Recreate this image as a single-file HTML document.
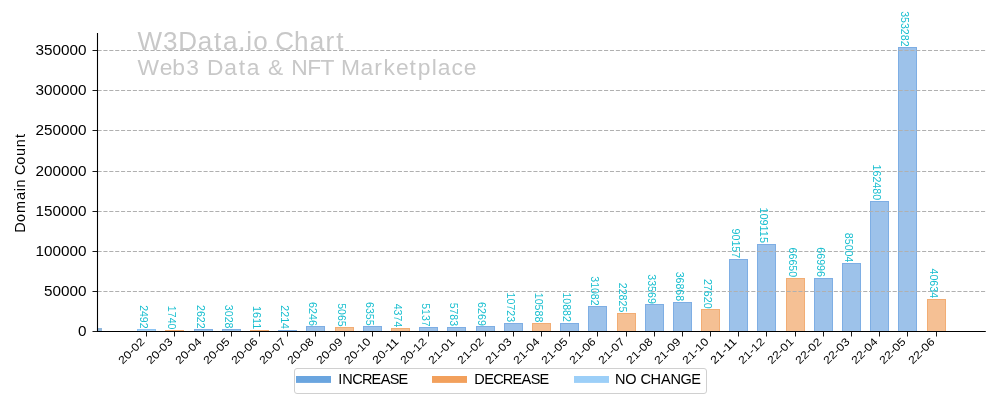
<!DOCTYPE html><html><head><meta charset="utf-8"><style>html,body{margin:0;padding:0;background:#fff;width:1000px;height:400px;overflow:hidden}svg{display:block;will-change:transform}text{font-family:"Liberation Sans",sans-serif}</style></head><body>
<svg width="1000" height="400" viewBox="0 0 1000 400">
<rect width="1000" height="400" fill="#fff"/>
<text x="137.59 162.94 178.36 197.81 213.98 222.93 238.18 246.35 253.13 268.37 275.29 294.10 309.68 325.38 336.14" y="49.9" font-size="26" fill="#c8c8c8" >W3Data.io Chart</text>
<text x="137.42 159.64 172.21 186.32 200.09 207.10 224.34 238.66 246.65 260.15 267.90 284.52 291.28 307.24 320.41 334.12 340.90 360.43 374.34 383.43 396.05 409.61 417.84 431.77 437.85 451.40 463.69" y="75.4" font-size="22.8" fill="#c8c8c8" >Web3 Data &amp; NFT Marketplace</text>
<rect x="137.50" y="329.50" width="18.00" height="2.00" fill="#a9d2f6" stroke="#8cc4f4" stroke-width="1"/>
<rect x="165.50" y="330.50" width="18.00" height="1.00" fill="#f5c094" stroke="#f2ad74" stroke-width="1"/>
<rect x="194.50" y="329.50" width="18.00" height="2.00" fill="#9dc2ea" stroke="#7eaee4" stroke-width="1"/>
<rect x="222.50" y="329.50" width="18.00" height="2.00" fill="#9dc2ea" stroke="#7eaee4" stroke-width="1"/>
<rect x="250.50" y="330.50" width="18.00" height="1.00" fill="#f5c094" stroke="#f2ad74" stroke-width="1"/>
<rect x="278.50" y="330.50" width="18.00" height="1.00" fill="#9dc2ea" stroke="#7eaee4" stroke-width="1"/>
<rect x="306.50" y="326.50" width="18.00" height="5.00" fill="#9dc2ea" stroke="#7eaee4" stroke-width="1"/>
<rect x="335.50" y="327.50" width="18.00" height="4.00" fill="#f5c094" stroke="#f2ad74" stroke-width="1"/>
<rect x="363.50" y="326.50" width="18.00" height="5.00" fill="#9dc2ea" stroke="#7eaee4" stroke-width="1"/>
<rect x="391.50" y="328.50" width="18.00" height="3.00" fill="#f5c094" stroke="#f2ad74" stroke-width="1"/>
<rect x="419.50" y="327.50" width="18.00" height="4.00" fill="#9dc2ea" stroke="#7eaee4" stroke-width="1"/>
<rect x="447.50" y="327.50" width="18.00" height="4.00" fill="#9dc2ea" stroke="#7eaee4" stroke-width="1"/>
<rect x="476.50" y="326.50" width="18.00" height="5.00" fill="#9dc2ea" stroke="#7eaee4" stroke-width="1"/>
<rect x="504.50" y="323.50" width="18.00" height="8.00" fill="#9dc2ea" stroke="#7eaee4" stroke-width="1"/>
<rect x="532.50" y="323.50" width="18.00" height="8.00" fill="#f5c094" stroke="#f2ad74" stroke-width="1"/>
<rect x="560.50" y="323.50" width="18.00" height="8.00" fill="#9dc2ea" stroke="#7eaee4" stroke-width="1"/>
<rect x="588.50" y="306.50" width="18.00" height="25.00" fill="#9dc2ea" stroke="#7eaee4" stroke-width="1"/>
<rect x="617.50" y="313.50" width="18.00" height="18.00" fill="#f5c094" stroke="#f2ad74" stroke-width="1"/>
<rect x="645.50" y="304.50" width="18.00" height="27.00" fill="#9dc2ea" stroke="#7eaee4" stroke-width="1"/>
<rect x="673.50" y="302.50" width="18.00" height="29.00" fill="#9dc2ea" stroke="#7eaee4" stroke-width="1"/>
<rect x="701.50" y="309.50" width="18.00" height="22.00" fill="#f5c094" stroke="#f2ad74" stroke-width="1"/>
<rect x="729.50" y="259.50" width="18.00" height="72.00" fill="#9dc2ea" stroke="#7eaee4" stroke-width="1"/>
<rect x="757.50" y="244.50" width="18.00" height="87.00" fill="#9dc2ea" stroke="#7eaee4" stroke-width="1"/>
<rect x="786.50" y="278.50" width="18.00" height="53.00" fill="#f5c094" stroke="#f2ad74" stroke-width="1"/>
<rect x="814.50" y="278.50" width="18.00" height="53.00" fill="#9dc2ea" stroke="#7eaee4" stroke-width="1"/>
<rect x="842.50" y="263.50" width="18.00" height="68.00" fill="#9dc2ea" stroke="#7eaee4" stroke-width="1"/>
<rect x="870.50" y="201.50" width="18.00" height="130.00" fill="#9dc2ea" stroke="#7eaee4" stroke-width="1"/>
<rect x="898.50" y="47.50" width="18.00" height="284.00" fill="#9dc2ea" stroke="#7eaee4" stroke-width="1"/>
<rect x="927.50" y="299.50" width="18.00" height="32.00" fill="#f5c094" stroke="#f2ad74" stroke-width="1"/>
<rect x="98" y="328" width="4" height="3" fill="#94b8dc"/>
<line x1="97.5" y1="291.50" x2="985.8" y2="291.50" stroke="#b0b0b0" stroke-width="1.1" stroke-dasharray="4.11 1.78"/>
<line x1="97.5" y1="251.50" x2="985.8" y2="251.50" stroke="#b0b0b0" stroke-width="1.1" stroke-dasharray="4.11 1.78"/>
<line x1="97.5" y1="211.50" x2="985.8" y2="211.50" stroke="#b0b0b0" stroke-width="1.1" stroke-dasharray="4.11 1.78"/>
<line x1="97.5" y1="171.50" x2="985.8" y2="171.50" stroke="#b0b0b0" stroke-width="1.1" stroke-dasharray="4.11 1.78"/>
<line x1="97.5" y1="130.50" x2="985.8" y2="130.50" stroke="#b0b0b0" stroke-width="1.1" stroke-dasharray="4.11 1.78"/>
<line x1="97.5" y1="90.50" x2="985.8" y2="90.50" stroke="#b0b0b0" stroke-width="1.1" stroke-dasharray="4.11 1.78"/>
<line x1="97.5" y1="50.50" x2="985.8" y2="50.50" stroke="#b0b0b0" stroke-width="1.1" stroke-dasharray="4.11 1.78"/>
<line x1="97.5" y1="33" x2="97.5" y2="332.00" stroke="#000" stroke-width="1.1"/>
<line x1="97" y1="331.50" x2="985.8" y2="331.50" stroke="#000" stroke-width="1.1"/>
<line x1="92.5" y1="331.50" x2="97.5" y2="331.50" stroke="#000" stroke-width="0.9"/>
<text x="86.4" y="336.40" font-size="14.4" text-anchor="end" fill="#000" textLength="8.5" lengthAdjust="spacingAndGlyphs">0</text>
<line x1="92.5" y1="291.50" x2="97.5" y2="291.50" stroke="#000" stroke-width="0.9"/>
<text x="86.4" y="296.40" font-size="14.4" text-anchor="end" fill="#000" textLength="42.5" lengthAdjust="spacingAndGlyphs">50000</text>
<line x1="92.5" y1="251.50" x2="97.5" y2="251.50" stroke="#000" stroke-width="0.9"/>
<text x="86.4" y="256.40" font-size="14.4" text-anchor="end" fill="#000" textLength="51.0" lengthAdjust="spacingAndGlyphs">100000</text>
<line x1="92.5" y1="211.50" x2="97.5" y2="211.50" stroke="#000" stroke-width="0.9"/>
<text x="86.4" y="216.40" font-size="14.4" text-anchor="end" fill="#000" textLength="51.0" lengthAdjust="spacingAndGlyphs">150000</text>
<line x1="92.5" y1="171.50" x2="97.5" y2="171.50" stroke="#000" stroke-width="0.9"/>
<text x="86.4" y="176.40" font-size="14.4" text-anchor="end" fill="#000" textLength="51.0" lengthAdjust="spacingAndGlyphs">200000</text>
<line x1="92.5" y1="130.50" x2="97.5" y2="130.50" stroke="#000" stroke-width="0.9"/>
<text x="86.4" y="135.40" font-size="14.4" text-anchor="end" fill="#000" textLength="51.0" lengthAdjust="spacingAndGlyphs">250000</text>
<line x1="92.5" y1="90.50" x2="97.5" y2="90.50" stroke="#000" stroke-width="0.9"/>
<text x="86.4" y="95.40" font-size="14.4" text-anchor="end" fill="#000" textLength="51.0" lengthAdjust="spacingAndGlyphs">300000</text>
<line x1="92.5" y1="50.50" x2="97.5" y2="50.50" stroke="#000" stroke-width="0.9"/>
<text x="86.4" y="55.40" font-size="14.4" text-anchor="end" fill="#000" textLength="51.0" lengthAdjust="spacingAndGlyphs">350000</text>
<line x1="146.50" y1="331.50" x2="146.50" y2="336.50" stroke="#000" stroke-width="0.9"/>
<text transform="translate(139.60,336.8) rotate(-45)" x="0" y="0" font-size="11.0" text-anchor="end" dominant-baseline="hanging" fill="#000" textLength="31.7" lengthAdjust="spacingAndGlyphs">20-02</text>
<line x1="174.50" y1="331.50" x2="174.50" y2="336.50" stroke="#000" stroke-width="0.9"/>
<text transform="translate(167.60,336.8) rotate(-45)" x="0" y="0" font-size="11.0" text-anchor="end" dominant-baseline="hanging" fill="#000" textLength="31.7" lengthAdjust="spacingAndGlyphs">20-03</text>
<line x1="203.50" y1="331.50" x2="203.50" y2="336.50" stroke="#000" stroke-width="0.9"/>
<text transform="translate(196.60,336.8) rotate(-45)" x="0" y="0" font-size="11.0" text-anchor="end" dominant-baseline="hanging" fill="#000" textLength="31.7" lengthAdjust="spacingAndGlyphs">20-04</text>
<line x1="231.50" y1="331.50" x2="231.50" y2="336.50" stroke="#000" stroke-width="0.9"/>
<text transform="translate(224.60,336.8) rotate(-45)" x="0" y="0" font-size="11.0" text-anchor="end" dominant-baseline="hanging" fill="#000" textLength="31.7" lengthAdjust="spacingAndGlyphs">20-05</text>
<line x1="259.50" y1="331.50" x2="259.50" y2="336.50" stroke="#000" stroke-width="0.9"/>
<text transform="translate(252.60,336.8) rotate(-45)" x="0" y="0" font-size="11.0" text-anchor="end" dominant-baseline="hanging" fill="#000" textLength="31.7" lengthAdjust="spacingAndGlyphs">20-06</text>
<line x1="287.50" y1="331.50" x2="287.50" y2="336.50" stroke="#000" stroke-width="0.9"/>
<text transform="translate(280.60,336.8) rotate(-45)" x="0" y="0" font-size="11.0" text-anchor="end" dominant-baseline="hanging" fill="#000" textLength="31.7" lengthAdjust="spacingAndGlyphs">20-07</text>
<line x1="315.50" y1="331.50" x2="315.50" y2="336.50" stroke="#000" stroke-width="0.9"/>
<text transform="translate(308.60,336.8) rotate(-45)" x="0" y="0" font-size="11.0" text-anchor="end" dominant-baseline="hanging" fill="#000" textLength="31.7" lengthAdjust="spacingAndGlyphs">20-08</text>
<line x1="344.50" y1="331.50" x2="344.50" y2="336.50" stroke="#000" stroke-width="0.9"/>
<text transform="translate(337.60,336.8) rotate(-45)" x="0" y="0" font-size="11.0" text-anchor="end" dominant-baseline="hanging" fill="#000" textLength="31.7" lengthAdjust="spacingAndGlyphs">20-09</text>
<line x1="372.50" y1="331.50" x2="372.50" y2="336.50" stroke="#000" stroke-width="0.9"/>
<text transform="translate(365.60,336.8) rotate(-45)" x="0" y="0" font-size="11.0" text-anchor="end" dominant-baseline="hanging" fill="#000" textLength="31.7" lengthAdjust="spacingAndGlyphs">20-10</text>
<line x1="400.50" y1="331.50" x2="400.50" y2="336.50" stroke="#000" stroke-width="0.9"/>
<text transform="translate(393.60,336.8) rotate(-45)" x="0" y="0" font-size="11.0" text-anchor="end" dominant-baseline="hanging" fill="#000" textLength="31.7" lengthAdjust="spacingAndGlyphs">20-11</text>
<line x1="428.50" y1="331.50" x2="428.50" y2="336.50" stroke="#000" stroke-width="0.9"/>
<text transform="translate(421.60,336.8) rotate(-45)" x="0" y="0" font-size="11.0" text-anchor="end" dominant-baseline="hanging" fill="#000" textLength="31.7" lengthAdjust="spacingAndGlyphs">20-12</text>
<line x1="456.50" y1="331.50" x2="456.50" y2="336.50" stroke="#000" stroke-width="0.9"/>
<text transform="translate(449.60,336.8) rotate(-45)" x="0" y="0" font-size="11.0" text-anchor="end" dominant-baseline="hanging" fill="#000" textLength="31.7" lengthAdjust="spacingAndGlyphs">21-01</text>
<line x1="485.50" y1="331.50" x2="485.50" y2="336.50" stroke="#000" stroke-width="0.9"/>
<text transform="translate(478.60,336.8) rotate(-45)" x="0" y="0" font-size="11.0" text-anchor="end" dominant-baseline="hanging" fill="#000" textLength="31.7" lengthAdjust="spacingAndGlyphs">21-02</text>
<line x1="513.50" y1="331.50" x2="513.50" y2="336.50" stroke="#000" stroke-width="0.9"/>
<text transform="translate(506.60,336.8) rotate(-45)" x="0" y="0" font-size="11.0" text-anchor="end" dominant-baseline="hanging" fill="#000" textLength="31.7" lengthAdjust="spacingAndGlyphs">21-03</text>
<line x1="541.50" y1="331.50" x2="541.50" y2="336.50" stroke="#000" stroke-width="0.9"/>
<text transform="translate(534.60,336.8) rotate(-45)" x="0" y="0" font-size="11.0" text-anchor="end" dominant-baseline="hanging" fill="#000" textLength="31.7" lengthAdjust="spacingAndGlyphs">21-04</text>
<line x1="569.50" y1="331.50" x2="569.50" y2="336.50" stroke="#000" stroke-width="0.9"/>
<text transform="translate(562.60,336.8) rotate(-45)" x="0" y="0" font-size="11.0" text-anchor="end" dominant-baseline="hanging" fill="#000" textLength="31.7" lengthAdjust="spacingAndGlyphs">21-05</text>
<line x1="597.50" y1="331.50" x2="597.50" y2="336.50" stroke="#000" stroke-width="0.9"/>
<text transform="translate(590.60,336.8) rotate(-45)" x="0" y="0" font-size="11.0" text-anchor="end" dominant-baseline="hanging" fill="#000" textLength="31.7" lengthAdjust="spacingAndGlyphs">21-06</text>
<line x1="626.50" y1="331.50" x2="626.50" y2="336.50" stroke="#000" stroke-width="0.9"/>
<text transform="translate(619.60,336.8) rotate(-45)" x="0" y="0" font-size="11.0" text-anchor="end" dominant-baseline="hanging" fill="#000" textLength="31.7" lengthAdjust="spacingAndGlyphs">21-07</text>
<line x1="654.50" y1="331.50" x2="654.50" y2="336.50" stroke="#000" stroke-width="0.9"/>
<text transform="translate(647.60,336.8) rotate(-45)" x="0" y="0" font-size="11.0" text-anchor="end" dominant-baseline="hanging" fill="#000" textLength="31.7" lengthAdjust="spacingAndGlyphs">21-08</text>
<line x1="682.50" y1="331.50" x2="682.50" y2="336.50" stroke="#000" stroke-width="0.9"/>
<text transform="translate(675.60,336.8) rotate(-45)" x="0" y="0" font-size="11.0" text-anchor="end" dominant-baseline="hanging" fill="#000" textLength="31.7" lengthAdjust="spacingAndGlyphs">21-09</text>
<line x1="710.50" y1="331.50" x2="710.50" y2="336.50" stroke="#000" stroke-width="0.9"/>
<text transform="translate(703.60,336.8) rotate(-45)" x="0" y="0" font-size="11.0" text-anchor="end" dominant-baseline="hanging" fill="#000" textLength="31.7" lengthAdjust="spacingAndGlyphs">21-10</text>
<line x1="738.50" y1="331.50" x2="738.50" y2="336.50" stroke="#000" stroke-width="0.9"/>
<text transform="translate(731.60,336.8) rotate(-45)" x="0" y="0" font-size="11.0" text-anchor="end" dominant-baseline="hanging" fill="#000" textLength="31.7" lengthAdjust="spacingAndGlyphs">21-11</text>
<line x1="766.50" y1="331.50" x2="766.50" y2="336.50" stroke="#000" stroke-width="0.9"/>
<text transform="translate(759.60,336.8) rotate(-45)" x="0" y="0" font-size="11.0" text-anchor="end" dominant-baseline="hanging" fill="#000" textLength="31.7" lengthAdjust="spacingAndGlyphs">21-12</text>
<line x1="795.50" y1="331.50" x2="795.50" y2="336.50" stroke="#000" stroke-width="0.9"/>
<text transform="translate(788.60,336.8) rotate(-45)" x="0" y="0" font-size="11.0" text-anchor="end" dominant-baseline="hanging" fill="#000" textLength="31.7" lengthAdjust="spacingAndGlyphs">22-01</text>
<line x1="823.50" y1="331.50" x2="823.50" y2="336.50" stroke="#000" stroke-width="0.9"/>
<text transform="translate(816.60,336.8) rotate(-45)" x="0" y="0" font-size="11.0" text-anchor="end" dominant-baseline="hanging" fill="#000" textLength="31.7" lengthAdjust="spacingAndGlyphs">22-02</text>
<line x1="851.50" y1="331.50" x2="851.50" y2="336.50" stroke="#000" stroke-width="0.9"/>
<text transform="translate(844.60,336.8) rotate(-45)" x="0" y="0" font-size="11.0" text-anchor="end" dominant-baseline="hanging" fill="#000" textLength="31.7" lengthAdjust="spacingAndGlyphs">22-03</text>
<line x1="879.50" y1="331.50" x2="879.50" y2="336.50" stroke="#000" stroke-width="0.9"/>
<text transform="translate(872.60,336.8) rotate(-45)" x="0" y="0" font-size="11.0" text-anchor="end" dominant-baseline="hanging" fill="#000" textLength="31.7" lengthAdjust="spacingAndGlyphs">22-04</text>
<line x1="907.50" y1="331.50" x2="907.50" y2="336.50" stroke="#000" stroke-width="0.9"/>
<text transform="translate(900.60,336.8) rotate(-45)" x="0" y="0" font-size="11.0" text-anchor="end" dominant-baseline="hanging" fill="#000" textLength="31.7" lengthAdjust="spacingAndGlyphs">22-05</text>
<line x1="936.50" y1="331.50" x2="936.50" y2="336.50" stroke="#000" stroke-width="0.9"/>
<text transform="translate(929.60,336.8) rotate(-45)" x="0" y="0" font-size="11.0" text-anchor="end" dominant-baseline="hanging" fill="#000" textLength="31.7" lengthAdjust="spacingAndGlyphs">22-06</text>
<text transform="translate(140.18,328.63) rotate(90)" font-size="10.12" text-anchor="end" fill="#17becf" textLength="23.50" lengthAdjust="spacingAndGlyphs">2492</text>
<text transform="translate(168.37,329.44) rotate(90)" font-size="10.12" text-anchor="end" fill="#17becf" textLength="23.61" lengthAdjust="spacingAndGlyphs">1740</text>
<text transform="translate(196.56,328.53) rotate(90)" font-size="10.12" text-anchor="end" fill="#17becf" textLength="23.50" lengthAdjust="spacingAndGlyphs">2622</text>
<text transform="translate(224.76,328.43) rotate(90)" font-size="10.12" text-anchor="end" fill="#17becf" textLength="23.57" lengthAdjust="spacingAndGlyphs">3028</text>
<text transform="translate(252.95,329.41) rotate(90)" font-size="10.12" text-anchor="end" fill="#17becf" textLength="23.50" lengthAdjust="spacingAndGlyphs">1611</text>
<text transform="translate(281.11,329.05) rotate(90)" font-size="10.06" text-anchor="end" fill="#17becf" textLength="23.69" lengthAdjust="spacingAndGlyphs">2214</text>
<text transform="translate(309.33,325.89) rotate(90)" font-size="10.12" text-anchor="end" fill="#17becf" textLength="23.81" lengthAdjust="spacingAndGlyphs">6246</text>
<text transform="translate(337.52,326.60) rotate(90)" font-size="10.12" text-anchor="end" fill="#17becf" textLength="23.38" lengthAdjust="spacingAndGlyphs">5065</text>
<text transform="translate(365.72,325.56) rotate(90)" font-size="10.12" text-anchor="end" fill="#17becf" textLength="23.56" lengthAdjust="spacingAndGlyphs">6355</text>
<text transform="translate(393.91,327.31) rotate(90)" font-size="10.12" text-anchor="end" fill="#17becf" textLength="23.61" lengthAdjust="spacingAndGlyphs">4374</text>
<text transform="translate(422.10,326.65) rotate(90)" font-size="10.12" text-anchor="end" fill="#17becf" textLength="23.49" lengthAdjust="spacingAndGlyphs">5137</text>
<text transform="translate(450.29,326.09) rotate(90)" font-size="10.12" text-anchor="end" fill="#17becf" textLength="23.45" lengthAdjust="spacingAndGlyphs">5783</text>
<text transform="translate(478.49,325.83) rotate(90)" font-size="10.12" text-anchor="end" fill="#17becf" textLength="23.77" lengthAdjust="spacingAndGlyphs">6269</text>
<text transform="translate(506.68,322.10) rotate(90)" font-size="10.12" text-anchor="end" fill="#17becf" textLength="29.51" lengthAdjust="spacingAndGlyphs">10723</text>
<text transform="translate(534.87,322.33) rotate(90)" font-size="10.12" text-anchor="end" fill="#17becf" textLength="29.63" lengthAdjust="spacingAndGlyphs">10588</text>
<text transform="translate(563.06,321.86) rotate(90)" font-size="10.12" text-anchor="end" fill="#17becf" textLength="29.40" lengthAdjust="spacingAndGlyphs">10882</text>
<text transform="translate(591.25,305.61) rotate(90)" font-size="10.12" text-anchor="end" fill="#17becf" textLength="29.33" lengthAdjust="spacingAndGlyphs">31082</text>
<text transform="translate(619.45,312.29) rotate(90)" font-size="10.12" text-anchor="end" fill="#17becf" textLength="29.53" lengthAdjust="spacingAndGlyphs">22825</text>
<text transform="translate(647.64,303.85) rotate(90)" font-size="10.12" text-anchor="end" fill="#17becf" textLength="29.57" lengthAdjust="spacingAndGlyphs">33569</text>
<text transform="translate(675.83,301.19) rotate(90)" font-size="10.12" text-anchor="end" fill="#17becf" textLength="29.56" lengthAdjust="spacingAndGlyphs">36868</text>
<text transform="translate(704.02,308.60) rotate(90)" font-size="10.12" text-anchor="end" fill="#17becf" textLength="29.70" lengthAdjust="spacingAndGlyphs">27620</text>
<text transform="translate(732.22,258.26) rotate(90)" font-size="10.12" text-anchor="end" fill="#17becf" textLength="29.71" lengthAdjust="spacingAndGlyphs">90157</text>
<text transform="translate(760.41,242.92) rotate(90)" font-size="10.12" text-anchor="end" fill="#17becf" textLength="35.49" lengthAdjust="spacingAndGlyphs">109115</text>
<text transform="translate(788.60,277.22) rotate(90)" font-size="10.12" text-anchor="end" fill="#17becf" textLength="29.72" lengthAdjust="spacingAndGlyphs">66650</text>
<text transform="translate(816.79,277.02) rotate(90)" font-size="10.12" text-anchor="end" fill="#17becf" textLength="29.80" lengthAdjust="spacingAndGlyphs">66996</text>
<text transform="translate(844.98,262.44) rotate(90)" font-size="10.12" text-anchor="end" fill="#17becf" textLength="29.65" lengthAdjust="spacingAndGlyphs">85004</text>
<text transform="translate(873.18,200.18) rotate(90)" font-size="10.12" text-anchor="end" fill="#17becf" textLength="35.65" lengthAdjust="spacingAndGlyphs">162480</text>
<text transform="translate(901.37,46.54) rotate(90)" font-size="10.12" text-anchor="end" fill="#17becf" textLength="35.37" lengthAdjust="spacingAndGlyphs">353282</text>
<text transform="translate(929.56,298.12) rotate(90)" font-size="10.12" text-anchor="end" fill="#17becf" textLength="29.60" lengthAdjust="spacingAndGlyphs">40634</text>
<text x="0.11 10.91 19.92 32.95 41.55 45.46 54.09 57.93 68.23 76.88 85.68 94.83" y="0" font-size="14.5" fill="#000" transform="translate(25.3,232.9) rotate(-90)">Domain Count</text>
<rect x="294.5" y="368.5" width="412" height="25" rx="2.5" ry="2.5" fill="#fff" fill-opacity="0.8" stroke="#d0d0d0" stroke-width="1"/>
<rect x="296" y="376" width="35" height="6.9" fill="#6aa5df"/>
<text x="338.13 342.16 352.20 361.88 371.49 380.63 389.79 398.58" y="384.3" font-size="14.5" fill="#000" >INCREASE</text>
<rect x="432" y="376" width="35" height="6.9" fill="#f2a05c"/>
<text x="474.21 484.35 493.19 502.86 512.47 521.61 530.77 539.57" y="384.3" font-size="14.5" fill="#000" >DECREASE</text>
<rect x="574" y="376" width="35" height="6.9" fill="#9ccff8"/>
<text x="615.06 625.32 636.62 640.45 650.52 660.90 670.44 680.62 691.19" y="384.3" font-size="14.5" fill="#000" >NO CHANGE</text>
</svg></body></html>
